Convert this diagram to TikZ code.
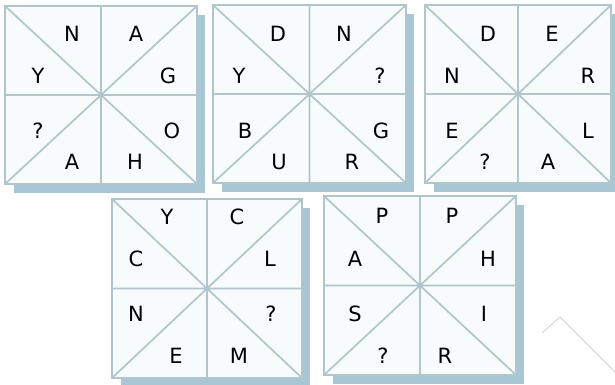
\documentclass[tikz,border=0pt]{standalone}
\usepackage{fontspec}
\setmainfont{DejaVu Sans}
\definecolor{gridline}{HTML}{B0C6CC}
\definecolor{boxshadow}{HTML}{A9C6D4}
\definecolor{boxfill}{HTML}{F7FBFC}
\definecolor{markgray}{HTML}{D2D2D2}
\tikzset{
  puzzle/.style={draw=gridline,fill=boxfill,line width=2pt},
  cut/.style={draw=gridline,line width=1.7pt},
  boxshade/.style={fill=boxshadow},
  letter/.style={font=\fontsize{21}{24}\selectfont,inner sep=0pt},
}

\begin{document}
\begin{tikzpicture}[x=1pt,y=-1pt]
  \useasboundingbox (0,0) rectangle (615,385);
  \fill[white] (0,0) rectangle (615,385);
  \foreach \n/\l/\t/\r/\b in {a/5/6/197/184, b/213/5/406/183, c/425/5/611/183,
                              d/112/199/302/378, e/324/196/516/375} {
    \fill[boxshade] (\l+9,\t+9) rectangle (\r+8,\b+9);
    \draw[puzzle] (\l,\t) rectangle (\r,\b);
    \coordinate (\n-tl) at (\l,\t);
    \coordinate (\n-tr) at (\r,\t);
    \coordinate (\n-bl) at (\l,\b);
    \coordinate (\n-br) at (\r,\b);
    \coordinate (\n-top) at ({(\l+\r)/2},\t);
    \coordinate (\n-bot) at ({(\l+\r)/2},\b);
    \coordinate (\n-lft) at (\l,{(\t+\b)/2});
    \coordinate (\n-rgt) at (\r,{(\t+\b)/2});
    \draw[cut] (\n-tl) -- (\n-br) (\n-tr) -- (\n-bl) (\n-top) -- (\n-bot) (\n-lft) -- (\n-rgt);
  }
  \foreach \n/\x/\y/\t in {
      a1/72/34/N, a2/136/34/A, a3/38/76/Y, a4/168/76/G, a5/38/131/?, a6/172/131/O, a7/72/162/A, a8/135/162/H,
      b1/278/34/D, b2/344/34/N, b3/239/76/Y, b4/380/76/?, b5/245/131/B, b6/381/131/G, b7/279/162/U, b8/352/162/R,
      c1/488/34/D, c2/552/34/E, c3/452/76/N, c4/588/76/R, c5/452/131/E, c6/588/131/L, c7/485/162/?, c8/548/162/A,
      d1/167/217/Y, d2/237/217/C, d3/136/259/C, d4/270/259/L, d5/136/314/N, d6/271/314/?, d7/176/356/E, d8/239/356/M,
      e1/382/216/P, e2/452/216/P, e3/355/259/A, e4/488/259/H, e5/355/314/S, e6/484/314/I, e7/383/356/?, e8/445/356/R}
    \node[letter] (\n) at (\x,\y) {\t};
  \coordinate (mark1) at (542,333);
  \coordinate (mark2) at (560,317);
  \coordinate (mark3) at (615,372);
  \draw[markgray,line width=0.8pt] (mark1) -- (mark2) -- (mark3);
\end{tikzpicture}
\end{document}
